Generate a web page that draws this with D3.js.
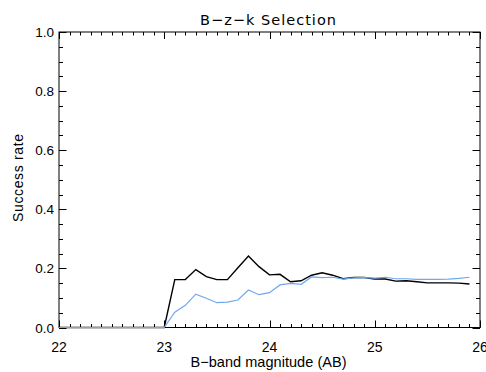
<!DOCTYPE html>
<html>
<head>
<meta charset="utf-8">
<script src="https://cdn.jsdelivr.net/npm/d3@7/dist/d3.min.js"></script>
<style>
  html, body { margin: 0; padding: 0; background: #fff; }
  svg { display: block; }
  text { font-family: "Liberation Sans", "DejaVu Sans", sans-serif; fill: #000; }
</style>
</head>
<body>
<svg id="chart" width="486" height="372"></svg>
<script>
// Magnitude bins (B-band, AB), 0.1 mag apart
const magnitudes = d3.range(0, 40).map(i => +(22 + i * 0.1).toFixed(1));

// Success rate of the B-z-k selection, two samples
const rateBlack = [
  0, 0, 0, 0, 0, 0, 0, 0, 0, 0,
  0, 0.162, 0.162, 0.196, 0.172, 0.162, 0.162, 0.202, 0.242, 0.206,
  0.178, 0.180, 0.155, 0.158, 0.177, 0.185, 0.177, 0.165, 0.169, 0.169,
  0.164, 0.164, 0.157, 0.158, 0.155, 0.151, 0.151, 0.151, 0.150, 0.147
];
const rateBlue = [
  0, 0, 0, 0, 0, 0, 0, 0, 0, 0,
  0, 0.052, 0.075, 0.113, 0.099, 0.084, 0.086, 0.093, 0.127, 0.111,
  0.118, 0.144, 0.149, 0.146, 0.171, 0.169, 0.170, 0.164, 0.168, 0.169,
  0.167, 0.170, 0.165, 0.165, 0.163, 0.163, 0.163, 0.164, 0.166, 0.170
];

const xMajorTicks = [22, 23, 24, 25, 26];
const yMajorTicks = [0, 0.2, 0.4, 0.6, 0.8, 1.0];

const titleText = "B\u2212z\u2212k Selection";
const xLabelText = "B\u2212band magnitude (AB)";
const yLabelText = "Success rate";

const svg = d3.select("#chart");
const plotLeft = 59, plotRight = 480, plotTop = 32, plotBottom = 327.5;

const x = d3.scaleLinear().domain([22, 26]).range([plotLeft, plotRight]);
const y = d3.scaleLinear().domain([0, 1]).range([plotBottom, plotTop]);

const xMinor = d3.range(0, 41).map(i => 22 + i * 0.1);
const yMinor = d3.range(0, 21).map(i => i * 0.05);

// Frame
svg.append("rect")
  .attr("x", plotLeft).attr("y", plotTop)
  .attr("width", plotRight - plotLeft).attr("height", plotBottom - plotTop)
  .attr("fill", "none").attr("stroke", "#000").attr("stroke-width", 1);

const tickGroup = svg.append("g").attr("stroke", "#000").attr("stroke-width", 1);

// Bottom and top ticks, pointing inward
function xTicks(vals, len) {
  vals.forEach(v => {
    const px = Math.round(x(v)) + 0.5;
    tickGroup.append("line").attr("x1", px).attr("x2", px)
      .attr("y1", plotBottom).attr("y2", plotBottom - len);
    tickGroup.append("line").attr("x1", px).attr("x2", px)
      .attr("y1", plotTop).attr("y2", plotTop + len);
  });
}
// Left and right ticks, pointing inward
function yTicks(vals, len) {
  vals.forEach(v => {
    const py = Math.round(y(v)) + 0.5;
    tickGroup.append("line").attr("y1", py).attr("y2", py)
      .attr("x1", plotLeft).attr("x2", plotLeft + len);
    tickGroup.append("line").attr("y1", py).attr("y2", py)
      .attr("x1", plotRight).attr("x2", plotRight - len);
  });
}
xTicks(xMinor, 3.5);
xTicks(xMajorTicks, 7);
yTicks(yMinor, 4);
yTicks(yMajorTicks, 7.5);

// Tick labels
svg.append("g").selectAll("text").data(xMajorTicks).join("text")
  .attr("x", d => x(d)).attr("y", 352)
  .attr("text-anchor", "middle").attr("font-size", 14)
  .text(d => d3.format("d")(d));

svg.append("g").selectAll("text").data(yMajorTicks).join("text")
  .attr("x", plotLeft - 5).attr("y", d => y(d) + 5)
  .attr("text-anchor", "end").attr("font-size", 13.5)
  .text(d => d3.format(".1f")(d));

// Title and axis labels
svg.append("text").attr("x", 200).attr("y", 24.5)
  .style("font-family", "'DejaVu Sans', sans-serif").attr("font-size", 14.5)
  .attr("textLength", 136).attr("lengthAdjust", "spacing")
  .text(titleText);
svg.append("text").attr("x", 190.5).attr("y", 366.5)
  .attr("font-size", 14.5)
  .attr("textLength", 156).attr("lengthAdjust", "spacing")
  .text(xLabelText);
svg.append("text")
  .attr("transform", "translate(23,222) rotate(-90)")
  .attr("font-size", 14)
  .attr("textLength", 88).attr("lengthAdjust", "spacing")
  .text(yLabelText);

// Series lines
const line = d3.line().x((d, i) => x(magnitudes[i])).y(d => y(d));

svg.append("path").datum(rateBlack)
  .attr("d", line).attr("fill", "none")
  .attr("stroke", "#000").attr("stroke-width", 1.4);

svg.append("path").datum(rateBlue)
  .attr("d", line).attr("fill", "none")
  .attr("stroke", "#6fa8f2").attr("stroke-width", 1.2);
</script>
</body>
</html>
